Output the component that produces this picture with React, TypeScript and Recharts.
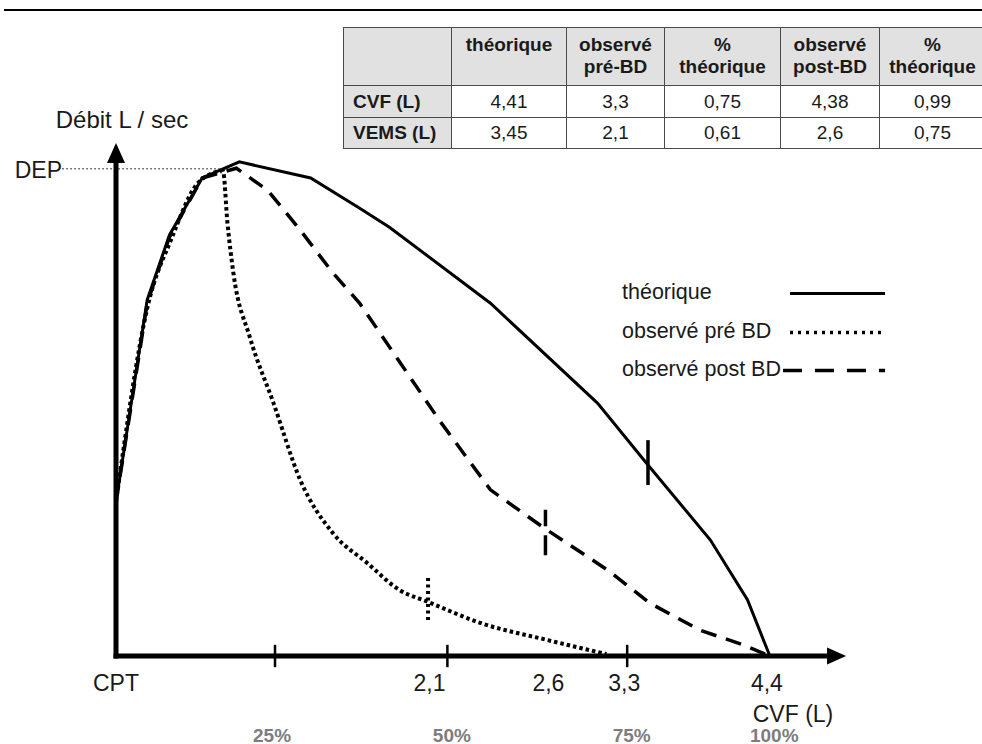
import React from "react";
import { LineChart, Line, XAxis, YAxis, ReferenceLine, Legend } from "recharts";

// ---------- data (x: volume in L from CPT, y: débit L/s) ----------
const theorique = [
  { x: 0, y: 3.16 }, { x: 0.21, y: 7.31 }, { x: 0.36, y: 8.64 }, { x: 0.58, y: 9.81 },
  { x: 0.83, y: 10.14 }, { x: 1.31, y: 9.81 }, { x: 1.64, y: 9.19 }, { x: 1.84, y: 8.8 },
  { x: 2.52, y: 7.24 }, { x: 3.24, y: 5.19 }, { x: 3.58, y: 3.92 }, { x: 4.0, y: 2.38 },
  { x: 4.25, y: 1.15 }, { x: 4.4, y: 0 },
];
const preBD = [
  { x: 0, y: 3.16 }, { x: 0.215, y: 7.2 }, { x: 0.37, y: 8.54 }, { x: 0.565, y: 9.75 },
  { x: 0.72, y: 9.95 }, { x: 0.75, y: 8.89 }, { x: 0.79, y: 7.86 }, { x: 0.9, y: 6.55 },
  { x: 1.06, y: 5.19 }, { x: 1.24, y: 3.61 }, { x: 1.46, y: 2.52 }, { x: 1.69, y: 1.91 },
  { x: 1.91, y: 1.35 }, { x: 2.1, y: 1.11 }, { x: 2.45, y: 0.68 }, { x: 2.9, y: 0.33 },
  { x: 3.3, y: 0.04 },
];
const postBD = [
  { x: 0, y: 3.16 }, { x: 0.21, y: 7.24 }, { x: 0.36, y: 8.6 }, { x: 0.58, y: 9.81 },
  { x: 0.81, y: 10.01 }, { x: 1.02, y: 9.56 }, { x: 1.24, y: 8.74 }, { x: 1.46, y: 7.86 },
  { x: 1.64, y: 7.24 }, { x: 1.91, y: 6.03 }, { x: 2.18, y: 4.82 }, { x: 2.52, y: 3.41 },
  { x: 2.87, y: 2.65 }, { x: 3.31, y: 1.76 }, { x: 3.59, y: 1.09 }, { x: 3.93, y: 0.53 },
  { x: 4.22, y: 0.23 }, { x: 4.4, y: 0 },
];

// VEMS markers on each curve
const vemsMarkers = [
  { series: "theo", x: 3.58, low: 3.51, high: 4.43 },
  { series: "post", x: 2.89, low: 2.07, high: 3.0 },
  { series: "pre", x: 2.1, low: 0.74, high: 1.66 },
];

const DEP = 10;
const depFrom = -0.363;
const depTo = 0.76;

const axisTickPositions = [1.07, 2.23, 3.44];
const valueTickPositions = [0, 2.11, 2.91, 3.42, 4.38];
const valueTickLabels = ["CPT", "2,1", "2,6", "3,3", "4,4"];
const percentTickPositions = [1.05, 2.26, 3.47, 4.43];
const percentTickLabels = ["25%", "50%", "75%", "100%"];

const X_MAX = 5;
const Y_MAX = 11;
const xArrowTip = 4.913;
const yArrowTip = 10.53;

// table
const tableColumns = [["théorique"], ["observé", "pré-BD"], ["%", "théorique"], ["observé", "post-BD"], ["%", "théorique"]];
const tableRowLabels = ["CVF (L)", "VEMS (L)"];
const cvfValues = ["4,41", "3,3", "0,75", "4,38", "0,99"];
const vemsValues = ["3,45", "2,1", "0,61", "2,6", "0,75"];

// ---------- styles ----------
const FF = '"Liberation Sans", Arial, Helvetica, sans-serif';
const SERIES = [
  { key: "post", name: "observé post BD", data: postBD, dash: "16 10", width: 3.5, curve: "linear" },
  { key: "theo", name: "théorique", data: theorique, dash: undefined, width: 3, curve: "linear" },
  { key: "pre", name: "observé pré BD", data: preBD, dash: "3.5 3", width: 4, curve: "monotone" },
];
const LEGEND_ORDER = ["theo", "pre", "post"];
const LEGEND_DASH: Record<string, string | undefined> = { theo: undefined, pre: "3 5", post: "19 13" };
const MARKER_DASH: Record<string, string | undefined> = { theo: undefined, pre: "3 3.5", post: "20 9" };

const xArrow = (props: any) => {
  const { x1, y1, x2, y2 } = props;
  const head = 19, half = 8.5;
  return (
    <g>
      <line x1={x1 - 2.5} y1={y1} x2={x2 - head + 1} y2={y2} stroke="#000" strokeWidth={5} />
      <polygon points={`${x2},${y2} ${x2 - head},${y2 - half} ${x2 - head},${y2 + half}`} fill="#000" />
    </g>
  );
};
const yArrow = (props: any) => {
  const { x1, y1, x2, y2 } = props;
  const head = 20, half = 9;
  const bottom = Math.max(y1, y2), top = Math.min(y1, y2);
  return (
    <g>
      <line x1={x1} y1={bottom + 2.5} x2={x2} y2={top + head - 1} stroke="#000" strokeWidth={5} />
      <polygon points={`${x2},${top} ${x2 - half},${top + head} ${x2 + half},${top + head}`} fill="#000" />
    </g>
  );
};

const ValueTick = (props: any) => {
  const { x, y, payload } = props;
  const i = valueTickPositions.indexOf(payload.value);
  return (
    <text x={x} y={y + 27} textAnchor="middle" dominantBaseline="central" fontFamily={FF} fontSize={23} fill="#1a1a1a">
      {valueTickLabels[i]}
    </text>
  );
};
const PercentTick = (props: any) => {
  const { x, y, payload } = props;
  const i = percentTickPositions.indexOf(payload.value);
  return (
    <text x={x} y={y + 35} textAnchor="middle" dominantBaseline="central" fontFamily={FF} fontSize={19} fontWeight="bold" fill="#7d7d7d">
      {percentTickLabels[i]}
    </text>
  );
};

const LegendContent = () => (
  <div style={{ fontFamily: FF, fontSize: 21.5, color: "#1a1a1a" }}>
    {LEGEND_ORDER.map((k) => {
      const s = SERIES.find((d) => d.key === k)!;
      const lineLeft = k === "post" ? 161 : 168;
      const lineW = k === "post" ? 102 : 95;
      return (
        <div key={k} style={{ position: "relative", height: 38.5 }}>
          <span style={{ position: "absolute", left: 0, top: "50%", transform: "translateY(-50%)", whiteSpace: "nowrap", lineHeight: 1 }}>
            {s.name}
          </span>
          <svg style={{ position: "absolute", left: lineLeft, top: 17 }} width={lineW} height={5}>
            <line x1={0} y1={2.5} x2={lineW} y2={2.5} stroke="#000" strokeWidth={k === "theo" ? 3 : 3.5} strokeDasharray={LEGEND_DASH[k]} />
          </svg>
        </div>
      );
    })}
  </div>
);

const txt = (left: number, top: number, size: number, anchor: "center" | "right", content: string) => (
  <div
    style={{
      position: "absolute",
      left,
      top,
      transform: anchor === "center" ? "translate(-50%,-50%)" : "translate(-100%,-50%)",
      fontFamily: FF,
      fontSize: size,
      lineHeight: 1,
      whiteSpace: "nowrap",
      color: "#1a1a1a",
    }}
  >
    {content}
  </div>
);

const border = "1.5px solid #4a4a4a";
const gray = "#e1e1e1";
const colWidths = [108, 115, 98, 116, 99, 106];

const DataTable = () => (
  <table
    style={{
      position: "absolute",
      left: 343,
      top: 27,
      borderCollapse: "collapse",
      tableLayout: "fixed",
      width: colWidths.reduce((a, b) => a + b, 0),
      fontFamily: FF,
      fontSize: 19,
      color: "#1a1a1a",
    }}
  >
    <colgroup>
      {colWidths.map((w, i) => (
        <col key={i} style={{ width: w }} />
      ))}
    </colgroup>
    <tbody>
      <tr style={{ height: 58 }}>
        <td style={{ border, background: gray }} />
        {tableColumns.map((lines, i) => (
          <td key={i} style={{ border, background: gray, textAlign: "center", verticalAlign: "top", paddingTop: 6, fontWeight: "bold", lineHeight: "22px" }}>
            {lines.map((l, j) => (
              <div key={j}>{l}</div>
            ))}
          </td>
        ))}
      </tr>
      {[cvfValues, vemsValues].map((vals, r) => (
        <tr key={r} style={{ height: r === 0 ? 32 : 31 }}>
          <td style={{ border, background: gray, fontWeight: "bold", padding: "0 0 0 9px", whiteSpace: "nowrap" }}>{tableRowLabels[r]}</td>
          {vals.map((v, i) => (
            <td key={i} style={{ border, background: "#fff", textAlign: "center", padding: 0 }}>
              {v}
            </td>
          ))}
        </tr>
      ))}
    </tbody>
  </table>
);

export default function App() {
  return (
    <div style={{ position: "absolute", left: 0, top: 0, width: 982, height: 744, overflow: "hidden", background: "#fff" }}>
      <div style={{ position: "absolute", left: 4, top: 9, width: 978, height: 2, background: "#000" }} />
      <LineChart width={982} height={744} margin={{ top: 120, right: 123, bottom: 0, left: 116 }}>
        <XAxis
          xAxisId={0}
          type="number"
          dataKey="x"
          domain={[0, X_MAX]}
          ticks={valueTickPositions}
          interval={0}
          axisLine={false}
          tickLine={false}
          tickSize={0}
          tickMargin={0}
          height={44}
          tick={<ValueTick />}
          allowDataOverflow
        />
        <XAxis
          xAxisId="pct"
          type="number"
          dataKey="x"
          domain={[0, X_MAX]}
          ticks={percentTickPositions}
          interval={0}
          axisLine={false}
          tickLine={false}
          tickSize={0}
          tickMargin={0}
          height={44}
          tick={<PercentTick />}
          allowDataOverflow
        />
        <YAxis type="number" domain={[0, Y_MAX]} hide allowDataOverflow />

        <ReferenceLine
          segment={[{ x: depFrom, y: DEP }, { x: depTo, y: DEP }]}
          stroke="#7a7a7a"
          strokeWidth={1.6}
          strokeDasharray="2 2"
          ifOverflow="visible"
        />

        {SERIES.map((s) => (
          <Line
            key={s.key}
            data={s.data}
            dataKey="y"
            name={s.name}
            type={s.curve as any}
            stroke="#000"
            strokeWidth={s.width}
            strokeDasharray={s.dash}
            dot={false}
            activeDot={false}
            isAnimationActive={false}
            legendType="line"
          />
        ))}

        {vemsMarkers.map((m) => (
          <ReferenceLine
            key={m.series}
            segment={[{ x: m.x, y: m.low }, { x: m.x, y: m.high }]}
            stroke="#000"
            strokeWidth={m.series === "pre" ? 4 : 3.5}
            strokeDasharray={MARKER_DASH[m.series]}
            ifOverflow="visible"
          />
        ))}

        {axisTickPositions.map((t) => (
          <ReferenceLine key={t} segment={[{ x: t, y: -0.23 }, { x: t, y: 0.23 }]} stroke="#000" strokeWidth={2.5} ifOverflow="visible" />
        ))}

        <ReferenceLine segment={[{ x: 0, y: 0 }, { x: xArrowTip, y: 0 }]} shape={xArrow} ifOverflow="visible" />
        <ReferenceLine segment={[{ x: 0, y: 0 }, { x: 0, y: yArrowTip }]} shape={yArrow} ifOverflow="visible" />

        <Legend
          layout="vertical"
          align="center"
          verticalAlign="middle"
          wrapperStyle={{ left: 622, top: 274, width: 290 }}
          content={() => <LegendContent />}
        />
      </LineChart>

      {txt(122, 120, 24, "center", "Débit L / sec")}
      {txt(62, 170, 23, "right", "DEP")}
      {txt(793, 714, 23, "center", "CVF (L)")}
      <DataTable />
    </div>
  );
}
